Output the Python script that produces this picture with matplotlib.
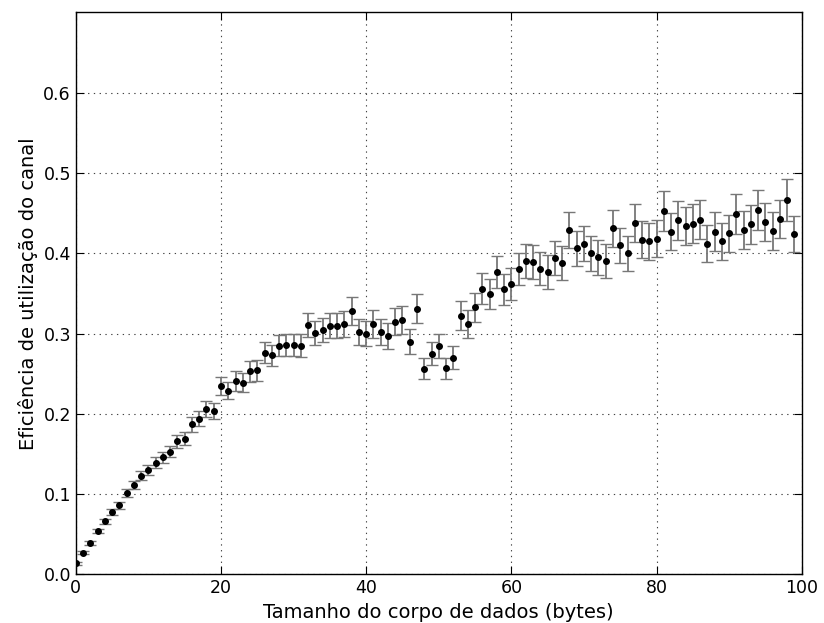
import numpy as np
import matplotlib
matplotlib.use("Agg")
import matplotlib.pyplot as plt

# tamanho do corpo de dados (bytes)
tamanho = list(range(100))

# eficiencia media
eficiencia = [
    0.014, 0.027, 0.039, 0.054, 0.066, 0.078, 0.086, 0.101, 0.111, 0.123,
    0.130, 0.139, 0.146, 0.153, 0.166, 0.169, 0.187, 0.194, 0.206, 0.204,
    0.235, 0.229, 0.241, 0.239, 0.253, 0.254, 0.276, 0.273, 0.285, 0.286,
    0.286, 0.285, 0.311, 0.301, 0.305, 0.310, 0.310, 0.312, 0.328, 0.302,
    0.300, 0.312, 0.302, 0.297, 0.315, 0.317, 0.290, 0.331, 0.256, 0.275,
    0.285, 0.257, 0.270, 0.322, 0.312, 0.333, 0.356, 0.349, 0.377, 0.355,
    0.362, 0.380, 0.390, 0.389, 0.381, 0.377, 0.394, 0.388, 0.429, 0.406,
    0.412, 0.400, 0.395, 0.390, 0.431, 0.410, 0.400, 0.438, 0.417, 0.415,
    0.418, 0.453, 0.427, 0.441, 0.434, 0.437, 0.442, 0.412, 0.427, 0.415,
    0.425, 0.449, 0.429, 0.436, 0.454, 0.439, 0.428, 0.443, 0.466, 0.424,
]

# semi-amplitude das barras de erro
erro = [
    0.002, 0.002, 0.002, 0.003, 0.003, 0.004, 0.004, 0.005, 0.005, 0.006,
    0.006, 0.007, 0.007, 0.007, 0.008, 0.008, 0.009, 0.009, 0.010, 0.010,
    0.011, 0.011, 0.012, 0.012, 0.013, 0.013, 0.013, 0.013, 0.013, 0.014,
    0.014, 0.014, 0.015, 0.015, 0.015, 0.016, 0.016, 0.016, 0.017, 0.016,
    0.016, 0.017, 0.016, 0.016, 0.017, 0.017, 0.016, 0.018, 0.013, 0.014,
    0.015, 0.013, 0.014, 0.018, 0.017, 0.018, 0.019, 0.019, 0.020, 0.019,
    0.020, 0.020, 0.021, 0.021, 0.021, 0.021, 0.021, 0.021, 0.023, 0.022,
    0.022, 0.022, 0.022, 0.021, 0.023, 0.022, 0.022, 0.024, 0.023, 0.023,
    0.023, 0.025, 0.023, 0.024, 0.024, 0.024, 0.024, 0.023, 0.024, 0.023,
    0.023, 0.025, 0.024, 0.024, 0.025, 0.024, 0.024, 0.024, 0.026, 0.023,
]

fig = plt.figure(figsize=(8.24, 6.23), dpi=100)
ax = fig.add_axes([0.092, 0.078, 0.881, 0.902])

ax.errorbar(tamanho, eficiencia, yerr=erro, fmt='o', color='black',
            markersize=4, ecolor='#777777', elinewidth=1.3, capsize=4,
            capthick=1)

ax.set_xlim(0, 100)
ax.set_ylim(0, 0.7)
ax.set_xticks([0, 20, 40, 60, 80, 100])
ax.set_yticks([0.0, 0.1, 0.2, 0.3, 0.4, 0.5, 0.6])
ax.grid(True, linestyle=(0, (1.2, 4)), color='#444444', linewidth=0.8)
ax.tick_params(direction='in', top=True, right=True, length=6,
               labelsize=12.5)
for s in ax.spines.values():
    s.set_linewidth(1.0)

ax.set_xlabel("Tamanho do corpo de dados (bytes)", fontsize=14)
ax.set_ylabel("Eficiência de utilização do canal", fontsize=14)

fig.savefig("out.png", dpi=100)
